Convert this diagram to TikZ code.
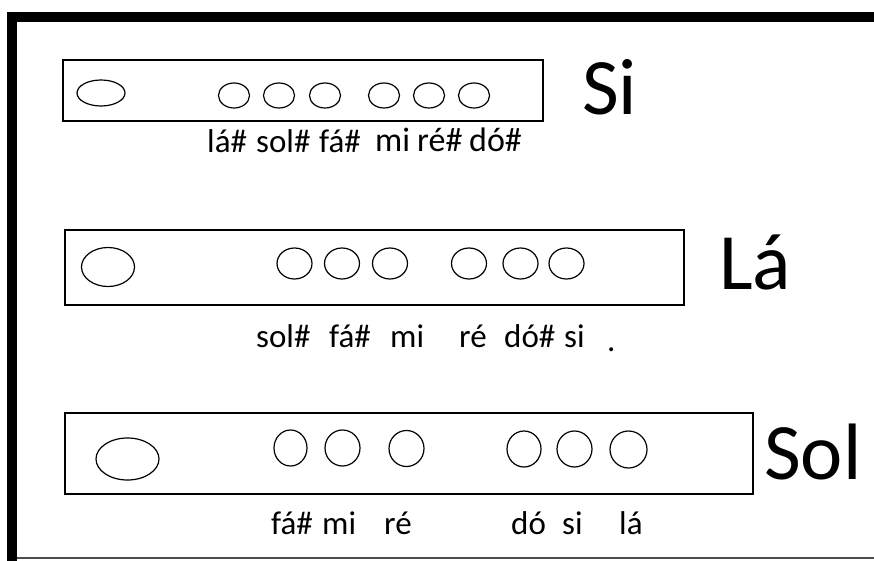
\documentclass[tikz,border=0pt]{standalone}
\usepackage{fontspec}
\setmainfont{Carlito}
\usetikzlibrary{shapes.geometric}
\begin{document}
\begin{tikzpicture}[x=1pt,y=-1pt,
  flute/.style={draw,line width=1.6pt,inner sep=0pt,rectangle},
  hole/.style n args={2}{draw,ellipse,line width=1.2pt,inner sep=0pt,
    minimum width=#1,minimum height=#2},
  note/.style={anchor=base west,inner sep=0pt,font=\fontsize{33}{33}\selectfont},
  title/.style={anchor=base west,inner sep=0pt,font=\fontsize{80}{80}\selectfont}]
\useasboundingbox (0,0) rectangle (874,561);

% frame: heavy top and left edges, thin bottom edge
\fill[black] (7,12) rectangle (874,22);
\fill[black] (7,12) rectangle (17,561);
\draw[black!70,line width=1.5pt] (17,558) -- (874,558);

% --- Si ---
\node[flute,minimum width=480,minimum height=61] (f1) at (303,90.5) {};
\node[hole={48}{26}] (m1) at (101,93) {};
\node[hole={31}{25}] (a1) at (234,95.5) {};
\node[hole={31}{25}] (a2) at (279,95.5) {};
\node[hole={31}{25}] (a3) at (325,95.5) {};
\node[hole={31}{25}] (a4) at (384,95.5) {};
\node[hole={31}{25}] (a5) at (429,95.5) {};
\node[hole={31}{25}] (a6) at (474,95.5) {};
\node[title] (t1) at (582,115) {Si};
\node[note] (n11) at (207,153) {lá\#};
\node[note] (n12) at (256,153) {sol\#};
\node[note] (n13) at (319,153) {fá\#};
\node[note,font=\fontsize{34}{34}\selectfont] (n14) at (375,151.5) {mi};
\node[note,font=\fontsize{34}{34}\selectfont] (n15) at (417,151.5) {ré\#};
\node[note,font=\fontsize{34}{34}\selectfont] (n16) at (469,151.5) {dó\#};

% --- Lá ---
\node[flute,minimum width=619,minimum height=75] (f2) at (374.5,267.5) {};
\node[hole={53}{39}] (m2) at (108,267) {};
\node[hole={35}{31}] (b1) at (294.5,263.5) {};
\node[hole={35}{31}] (b2) at (342,263.5) {};
\node[hole={35}{31}] (b3) at (390,263.5) {};
\node[hole={35}{31}] (b4) at (469,263.5) {};
\node[hole={35}{31}] (b5) at (520.5,263.5) {};
\node[hole={35}{31}] (b6) at (566.5,263.5) {};
\node[title] (t2) at (719,289) {Lá};
\node[note] (n21) at (256,347) {sol\#};
\node[note] (n22) at (329,347) {fá\#};
\node[note] (n23) at (390,347) {mi};
\node[note] (n24) at (459,347) {ré};
\node[note] (n25) at (504,347) {dó\#};
\node[note] (n26) at (564,347) {si};
\node[note] (n27) at (607,351) {.};

% --- Sol ---
\node[flute,minimum width=688,minimum height=81] (f3) at (409,453.5) {};
\node[hole={63}{42}] (m3) at (127.5,459) {};
\node[hole={33}{36}] (c1) at (290.5,448) {};
\node[hole={35}{36}] (c2) at (342.5,448) {};
\node[hole={35}{36}] (c3) at (406.5,448.5) {};
\node[hole={34}{36}] (c4) at (524,449) {};
\node[hole={35}{36}] (c5) at (574.5,449) {};
\node[hole={37}{37}] (c6) at (628.5,449.5) {};
\node[title] (t3) at (764,479) {Sol};
\node[note] (n31) at (271,534) {fá\#};
\node[note] (n32) at (322,534) {mi};
\node[note] (n33) at (384,534) {ré};
\node[note] (n34) at (511,534) {dó};
\node[note] (n35) at (562,534) {si};
\node[note] (n36) at (619,534) {lá};
\end{tikzpicture}
\end{document}
